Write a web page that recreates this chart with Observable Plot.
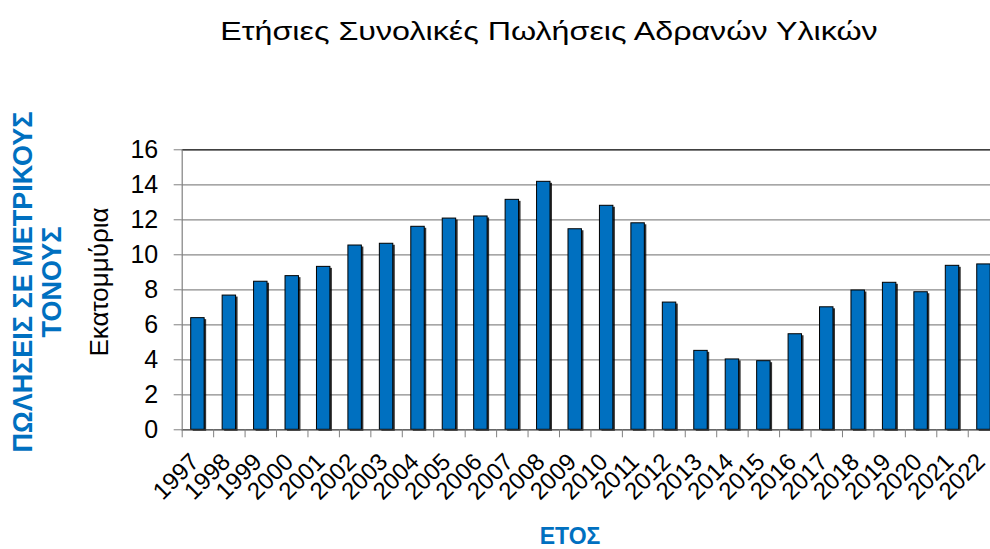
<!DOCTYPE html>
<html><head><meta charset="utf-8">
<script src="https://cdn.jsdelivr.net/npm/d3@7"></script>
<script src="https://cdn.jsdelivr.net/npm/@observablehq/plot@0.6"></script>
<style>
body{margin:0;overflow:hidden;background:#fff;}
#wrap{position:relative;width:990px;height:549px;overflow:hidden;font-family:"Liberation Sans",Arial,sans-serif;}
#chart svg{position:absolute;left:0;top:0;max-width:none !important;}
.t{position:absolute;white-space:nowrap;line-height:1;}
#title{left:549px;top:18px;font-size:26px;color:#000;transform:translateX(-50%) scaleX(1.24);}
#ylab{left:99px;top:282px;font-size:26px;color:#000;transform:translate(-50%,-50%) rotate(-90deg);}
#ylab2{left:38px;top:282px;font-size:27px;font-weight:bold;color:#0070C0;line-height:29px;text-align:center;transform:translate(-50%,-50%) rotate(-90deg);}
#xlab{left:570px;top:527px;font-size:23px;line-height:18px;font-weight:bold;color:#0070C0;transform:translateX(-50%);}
</style></head><body>
<div id="wrap">
  <div id="chart"></div>
  <div class="t" id="title">Ετήσιες Συνολικές Πωλήσεις Αδρανών Υλικών</div>
  <div class="t" id="ylab">Εκατομμύρια</div>
  <div class="t" id="ylab2">ΠΩΛΗΣΕΙΣ ΣΕ ΜΕΤΡΙΚΟΥΣ<br>ΤΟΝΟΥΣ</div>
  <div class="t" id="xlab">ΕΤΟΣ</div>
</div>
<script>
const years = ["1997","1998","1999","2000","2001","2002","2003","2004","2005","2006","2007","2008","2009","2010","2011","2012","2013","2014","2015","2016","2017","2018","2019","2020","2021","2022"];
const sales = [6.38,7.67,8.46,8.78,9.31,10.53,10.63,11.6,12.07,12.19,13.14,14.17,11.46,12.8,11.8,7.27,4.51,4.02,3.92,5.46,7.0,7.96,8.4,7.86,9.37,9.45];
const yTicks = [0,2,4,6,8,10,12,14,16];
const gridTicks = [2,4,6,8,10,12,14];

const data = years.map((y, i) => ({year: y, value: sales[i]}));
const W = 999.2, ML = 181.7;
const step = (W - ML) / years.length;

const chart = Plot.plot({
  width: W, height: 549,
  marginLeft: ML, marginRight: 0, marginTop: 149.3, marginBottom: 119.7,
  style: {fontFamily: "'Liberation Sans', Arial, sans-serif", background: "transparent", color: "#000", maxWidth: "none"},
  x: {domain: years, padding: 0, round: false, axis: null},
  y: {domain: [0, 16], axis: null},
  marks: [
    Plot.ruleY(gridTicks, {stroke: "#8a8a8a", strokeWidth: 1.2}),
    Plot.barY(data, {x: "year", y: "value", fill: "#000", fillOpacity: 0.8, insetLeft: 9, insetRight: 9, dx: 2, dy: 1.5}),
    Plot.barY(data, {x: "year", y: "value", fill: "#0070C0", stroke: "#000", strokeWidth: 1, insetLeft: 9, insetRight: 9}),
    Plot.ruleY([16], {stroke: "#000", strokeWidth: 1.2}),
    Plot.ruleY([0], {stroke: "#333", strokeWidth: 1.2}),
    Plot.frame({anchor: "left", stroke: "#808080", strokeWidth: 1.2}),
    Plot.axisY({ticks: yTicks, tickSize: 8, tickPadding: 16, fontSize: 25, stroke: "#808080", fill: "#000", label: null}),
    Plot.axisX({tickSize: 8, dx: -step / 2, stroke: "#808080", fill: "none", label: null}),
    Plot.axisX({tickSize: 0, tickRotate: -45, tickPadding: 28, dx: -3, fontSize: 24, fill: "#000", label: null})
  ]
});
document.getElementById("chart").appendChild(chart);
</script>
</body></html>
